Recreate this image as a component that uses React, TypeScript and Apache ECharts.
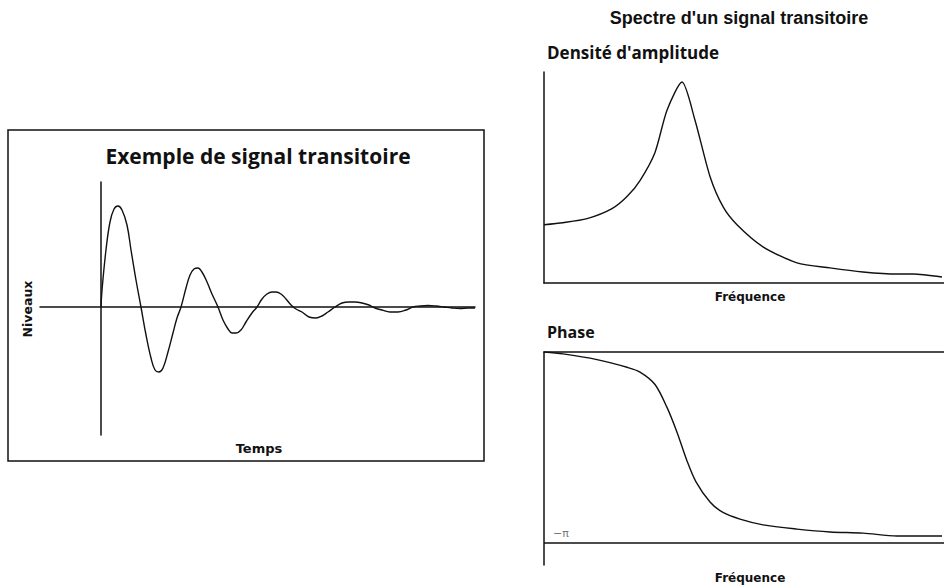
import React, { useEffect, useRef } from "react";
import * as echarts from "echarts";

// Left chart: transient signal (time in ms, level normalised)
const signalTime = [0, 0.13, 0.63, 1.14, 1.65, 2.15, 2.66, 3.29, 3.8, 4.43, 5.06, 5.7, 6.33, 6.84, 7.34, 7.85, 8.48, 9.11, 9.62, 10.13, 10.76, 11.27, 11.77, 12.28, 12.78, 13.42, 14.05, 14.81, 15.44, 16.08, 16.58, 17.09, 17.72, 18.35, 19.11, 19.75, 20.38, 21.01, 21.65, 22.15, 22.78, 23.42, 24.05, 24.68, 25.44, 26.33, 27.22, 27.97, 28.73, 29.62, 30.51, 31.39, 32.15, 33.04, 33.92, 34.68, 35.57, 36.58, 37.59, 38.61, 39.49, 40.38, 41.39, 42.41, 43.42, 44.43, 45.44, 46.46, 47.34];
const signalLevel = [0, 0.17, 0.57, 0.85, 0.98, 1.01, 0.97, 0.82, 0.57, 0.27, 0, -0.28, -0.51, -0.63, -0.65, -0.61, -0.45, -0.26, -0.11, 0, 0.19, 0.32, 0.38, 0.39, 0.35, 0.25, 0.13, 0, -0.13, -0.22, -0.26, -0.26, -0.23, -0.15, -0.06, 0, 0.08, 0.13, 0.15, 0.15, 0.13, 0.08, 0.02, -0.02, -0.05, -0.1, -0.11, -0.09, -0.05, 0, 0.04, 0.05, 0.05, 0.04, 0.02, -0.01, -0.03, -0.05, -0.05, -0.03, 0, 0.01, 0.015, 0.01, 0, -0.01, -0.015, -0.01, -0.01];

// Right top: amplitude density
const ampFreq = [0, 4.75, 10.75, 17, 20.75, 24, 27.75, 30.75, 34.5, 37.75, 41.5, 44.75, 48.25, 54.75, 63.25, 71.5, 79.75, 88.25, 92.25, 99.5];
const ampValue = [0.29, 0.3, 0.32, 0.37, 0.43, 0.51, 0.65, 0.86, 1.0, 0.81, 0.53, 0.38, 0.29, 0.18, 0.1, 0.075, 0.055, 0.045, 0.045, 0.03];

// Right bottom: phase (in units of pi)
const phaseFreq = [0, 4.75, 13.25, 20.75, 24, 27.75, 30.75, 33.25, 35.75, 38, 41.5, 44.75, 49, 54.75, 63.25, 71.5, 79.75, 88.25, 99.5];
const phaseValue = [0, -0.01, -0.04, -0.08, -0.105, -0.17, -0.29, -0.42, -0.57, -0.68, -0.785, -0.84, -0.875, -0.905, -0.927, -0.942, -0.948, -0.963, -0.963];

const phaseTickValues = [-1];
const phaseTickLabels = ["−π"];

const INK = "#111";
const zip = (a: number[], b: number[]) => a.map((v, i) => [v, b[i]]);

const axisLineStyle = { show: true, onZero: true, lineStyle: { color: INK, width: 1.5 } };
const hidden = { axisTick: { show: false }, axisLabel: { show: false }, splitLine: { show: false } };

export default function App() {
  const ref = useRef<HTMLDivElement>(null);
  useEffect(() => {
    if (!ref.current) return;
    const chart = echarts.init(ref.current, null, { renderer: "svg" });
    const lineSeries = (i: number, data: number[][], smooth: number | boolean) => ({
      type: "line",
      xAxisIndex: i,
      yAxisIndex: i,
      data,
      smooth,
      showSymbol: false,
      symbol: "none",
      lineStyle: { color: INK, width: 1.4 },
      silent: true,
    });
    const label = (text: string, x: number, y: number, font: string, align = "center", extra = {}) => ({
      type: "text",
      x,
      y,
      ...extra,
      style: { text, font, fill: INK, textAlign: align, textVerticalAlign: "middle" },
    });
    chart.setOption({
      animation: false,
      backgroundColor: "#fff",
      grid: [
        { left: 40, top: 182, width: 435, height: 253 },
        { left: 544, top: 72, width: 400, height: 211 },
        { left: 544, top: 352, width: 400, height: 213 },
      ],
      xAxis: [
        { type: "value", gridIndex: 0, min: -7.72, max: 47.34, axisLine: axisLineStyle, ...hidden },
        { type: "value", gridIndex: 1, min: 0, max: 100, axisLine: axisLineStyle, ...hidden },
        { type: "value", gridIndex: 2, min: 0, max: 100, axisLine: axisLineStyle, ...hidden },
      ],
      yAxis: [
        { type: "value", gridIndex: 0, min: -1.28, max: 1.25, axisLine: axisLineStyle, ...hidden },
        { type: "value", gridIndex: 1, min: 0, max: 1.05, axisLine: axisLineStyle, ...hidden },
        {
          type: "value",
          gridIndex: 2,
          min: -1.115,
          max: 0,
          axisLine: { ...axisLineStyle, onZero: false },
          axisTick: { show: false },
          splitLine: { show: false },
          axisLabel: {
            show: true,
            inside: true,
            customValues: phaseTickValues,
            formatter: (v: number) => phaseTickLabels[phaseTickValues.indexOf(v)] ?? "",
            color: "#777",
            fontSize: 11,
            fontFamily: "DejaVu Sans",
            margin: 9,
            verticalAlign: "bottom",
            padding: [0, 0, 4, 0],
          },
        },
      ],
      series: [
        lineSeries(0, zip(signalTime, signalLevel), 0.4),
        lineSeries(1, zip(ampFreq, ampValue), 0.25),
        {
          ...lineSeries(2, zip(phaseFreq, phaseValue), 0.3),
          markLine: {
            silent: true,
            symbol: "none",
            label: { show: false },
            lineStyle: { color: INK, width: 1.5, type: "solid" },
            data: [{ yAxis: -1 }],
          },
        },
      ],
      graphic: [
        {
          type: "rect",
          shape: { x: 8, y: 130, width: 476, height: 331 },
          style: { fill: "none", stroke: INK, lineWidth: 1.5 },
        },
        label("Exemple de signal transitoire", 258, 156, "bold 21px 'Open Sans'"),
        label("Niveaux", 27, 309, "bold 12.5px 'DejaVu Sans'", "center", { rotation: Math.PI / 2 }),
        label("Temps", 259, 448, "bold 13px 'DejaVu Sans'"),
        label("Spectre d'un signal transitoire", 739, 18, "bold 18px 'Liberation Sans'"),
        label("Densité d'amplitude", 547, 52, "bold 17px 'Open Sans'", "left"),
        label("Fréquence", 750, 297, "bold 12px 'DejaVu Sans'"),
        label("Phase", 547, 332, "bold 16px 'Open Sans'", "left"),
        label("Fréquence", 750, 578, "bold 12px 'DejaVu Sans'"),
      ],
    });
    return () => chart.dispose();
  }, []);
  return (
    <div
      ref={ref}
      style={{ position: "fixed", left: 0, top: 0, width: 944, height: 587, background: "#fff" }}
    />
  );
}
